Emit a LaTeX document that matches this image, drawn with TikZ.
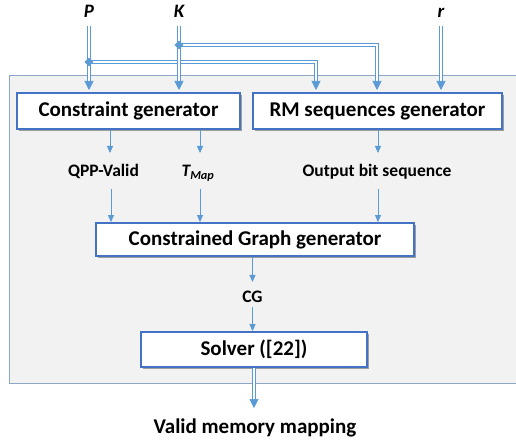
\documentclass[tikz,border=0pt]{standalone}
\usepackage{fontspec}
\setmainfont{Carlito}
\usetikzlibrary{arrows.meta,shapes.geometric,shadows,calc}
\definecolor{lineblue}{RGB}{91,155,213}
\definecolor{boxblue}{RGB}{68,114,196}
\definecolor{bggray}{RGB}{242,242,242}
\definecolor{bgborder}{RGB}{140,165,200}
\tikzset{
  procbox/.style={draw=boxblue, line width=1.8pt, fill=white, font=\fontsize{21}{24}\selectfont\bfseries,
    inner sep=0pt, drop shadow={shadow xshift=2pt, shadow yshift=-2pt, opacity=0.35, fill=black}},
  lbl/.style={font=\fontsize{17.5}{20}\selectfont\bfseries, inner sep=0pt, anchor=base},
  inlbl/.style={font=\fontsize{19}{22}\selectfont\bfseries\itshape, inner sep=0pt, anchor=base},
  arr/.style={draw=lineblue, line width=0.9pt, -{Triangle[length=7pt,width=6pt]}},
  dbl/.style={draw=lineblue, line width=0.8pt, double=white, double distance=2pt, shorten >=8pt},
  dtip/.style={draw=lineblue, fill=lineblue, line width=0.7pt, -{Triangle[length=9pt,width=9pt]}},
  junc/.style={diamond, fill=lineblue, inner sep=0pt, minimum size=9pt},
}
\begin{document}
\begin{tikzpicture}[x=1pt,y=-1pt]
\useasboundingbox (0,0) rectangle (516,443);
\fill[bggray, draw=bgborder, line width=0.8pt] (9.5,75) rectangle (530,383);

% inputs
\node[inlbl] (P) at (89,18) {P};
\node[inlbl] (K) at (179,18) {K};
\node[inlbl] (r) at (441,18) {r};

% boxes
\node[procbox, minimum width=223pt, minimum height=36pt] (cg) at (128.5,111) {Constraint generator};
\node[procbox, minimum width=249pt, minimum height=36pt] (rm) at (377.5,111) {RM sequences generator};
\node[procbox, minimum width=318pt, minimum height=33pt] (cgg) at (255,239.5) {Constrained Graph generator};
\node[procbox, minimum width=226pt, minimum height=35pt] (solver) at (254,349.5) {Solver ([22])};

% labels
\node[lbl] (qpp) at (103.5,177) {QPP-Valid};
\node[lbl] (tmap) at (198,177) {\itshape T\textsubscript{\itshape Map}};
\node[lbl] (obs) at (377,177) {Output bit sequence};
\node[lbl] (cglab) at (252.5,302) {CG};
\node[font=\fontsize{21}{24}\selectfont\bfseries, inner sep=0pt, anchor=base] (out) at (255,433) {Valid memory mapping};

% junctions
\node[junc] (jP) at (89,62) {};
\node[junc] (jK) at (179,45) {};

% arrow endpoints
\coordinate (eP) at (89,90);
\coordinate (eK) at (179,90);
\coordinate (eP2) at (316,90);
\coordinate (eK2) at (377,90);
\coordinate (er) at (441,90);
\coordinate (eout) at (254,408);
\coordinate (sP) at (89,26);
\coordinate (sK) at (179,26);
\coordinate (sr) at (441,26);

% double connectors
\draw[dbl] (sP) -- (eP);
\draw[dbl] (jP.center) -- (jP.center -| eP2) -- (eP2);
\draw[dbl] (sK) -- (eK);
\draw[dbl] (jK.center) -- (jK.center -| eK2) -- (eK2);
\draw[dbl] (sr) -- (er);
\draw[dbl] (solver.south) -- (eout);
\node[junc] at (jP) {};
\node[junc] at (jK) {};
\foreach \e in {eP,eK,eP2,eK2,er,eout}{
  \draw[dtip] ($(\e)+(0,-9)$) -- (\e);
}

% single arrows
\coordinate (a1) at (110,153);
\coordinate (a2) at (200,153);
\coordinate (a3) at (378,153);
\coordinate (b1) at (111,189);
\coordinate (b2) at (200,189);
\coordinate (b3) at (378,189);
\draw[arr] (a1 |- cg.south) -- (a1);
\draw[arr] (a2 |- cg.south) -- (a2);
\draw[arr] (a3 |- rm.south) -- (a3);
\draw[arr] (b1) -- (b1 |- cgg.north);
\draw[arr] (b2) -- (b2 |- cgg.north);
\draw[arr] (b3) -- (b3 |- cgg.north);
\coordinate (c1) at (252.5,282);
\coordinate (c2) at (252.5,307);
\draw[arr] (c1 |- cgg.south) -- (c1);
\draw[arr] (c2) -- (c2 |- solver.north);
\end{tikzpicture}
\end{document}
